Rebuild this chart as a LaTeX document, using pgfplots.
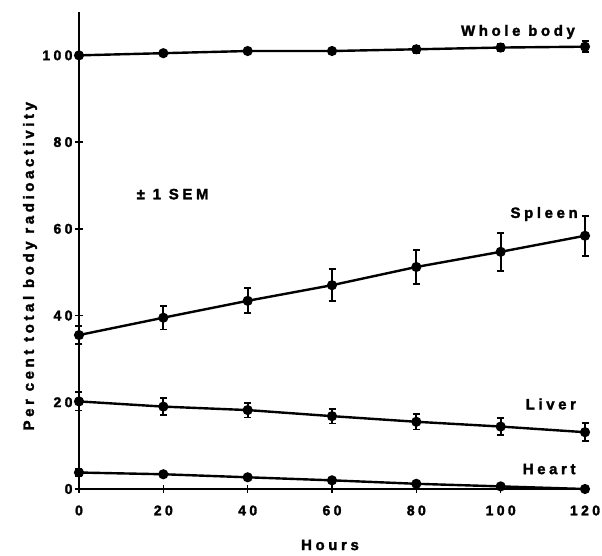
\documentclass[border=0pt]{standalone}
\usepackage{fontspec}
\setmainfont{Liberation Sans}[LetterSpace=24, UprightFont={* Bold}, BoldFont={* Bold}, UprightFeatures={FakeBold=2}]
\usepackage{pgfplots}
\pgfplotsset{compat=1.18}
\pgfplotsset{
  ser/.style={black, line width=2.4pt, mark=*, mark size=3.8pt,
    mark options={solid},
    error bars/.cd, y dir=both, y explicit,
    error bar style={line width=1.8pt},
    error mark options={rotate=90, mark size=3.5pt, line width=1.8pt}},
}
\begin{document}
\begin{tikzpicture}[x=1pt,y=1pt]
\useasboundingbox (-79,-67) rectangle (523,489);
\begin{axis}[
  at={(0,0)}, anchor=south west,
  scale only axis, width=506pt, height=477pt,
  xmin=0, xmax=120, ymin=0, ymax=110,
  clip=false,
  axis x line=bottom, axis y line=left,
  axis line style={line width=2.4pt, -},
  xtick={0,20,...,120}, ytick={0,20,...,100},
  tick align=center, major tick length=8pt,
  tick style={line width=1.6pt, black},
  ticklabel style={font=\fontsize{14}{14}\selectfont},
  /pgf/number format/assume math mode=true,
  xticklabel style={yshift=-9pt},
  yticklabel style={xshift=1pt},
  xlabel={Hours}, ylabel={Per cent total body radioactivity},
  xlabel style={font=\fontsize{15}{15}\selectfont, at={(axis description cs:0.496,0)}, anchor=center, yshift=-56pt},
  ylabel style={font=\fontsize{15}{15}\selectfont, at={(axis description cs:0,0.467)}, anchor=center, yshift=49pt},
]
% Whole body
\addplot[ser] coordinates {
 (0,100) +- (0,0.3)
 (20,100.5) +- (0,0.3)
 (40,101) +- (0,0.3)
 (60,101) +- (0,0.4)
 (80,101.4) +- (0,0.8)
 (100,101.8) +- (0,0.9)
 (120,102) +- (0,1.3)
};
% Spleen
\addplot[ser] coordinates {
 (0,35.5) +- (0,2.1)
 (20,39.5) +- (0,2.7)
 (40,43.4) +- (0,2.9)
 (60,47) +- (0,3.7)
 (80,51.2) +- (0,3.9)
 (100,54.7) +- (0,4.4)
 (120,58.4) +- (0,4.6)
};
% Liver
\addplot[ser] coordinates {
 (0,20.2) +- (0,2.1)
 (20,19.0) +- (0,2.0)
 (40,18.2) +- (0,1.7)
 (60,16.8) +- (0,1.7)
 (80,15.5) +- (0,1.8)
 (100,14.4) +- (0,1.9)
 (120,13.1) +- (0,2.1)
};
% Heart
\addplot[ser] coordinates {
 (0,3.8) +- (0,0.8)
 (20,3.4) +- (0,0.4)
 (40,2.7) +- (0,0.3)
 (60,2.0) +- (0,0.3)
 (80,1.2) +- (0,0.3)
 (100,0.6) +- (0,0.3)
 (120,0.0) +- (0,0.3)
};
\node[font=\fontsize{15}{15}\selectfont] at (axis cs:104.1,105.4) {Whole body};
\node[font=\fontsize{15}{15}\selectfont] at (axis cs:110.3,63.4) {Spleen};
\node[font=\fontsize{15}{15}\selectfont] at (axis cs:111.9,19.6) {Liver};
\node[font=\fontsize{15}{15}\selectfont] at (axis cs:111.5,4.6) {Heart};
\node[font=\fontsize{15}{15}\selectfont] at (axis cs:22.2,68) {± 1 SEM};
\end{axis}
\end{tikzpicture}
\end{document}
